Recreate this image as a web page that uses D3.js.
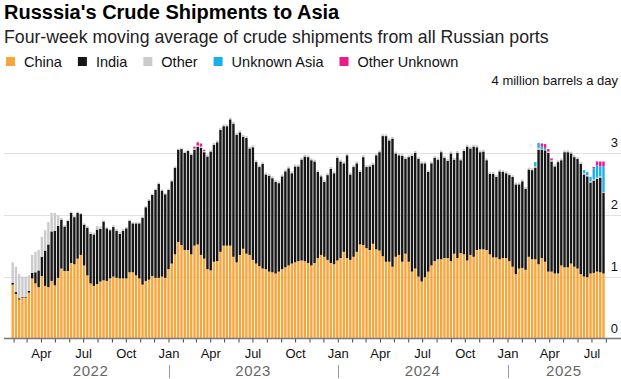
<!DOCTYPE html>
<html><head><meta charset="utf-8">
<script src="https://cdn.jsdelivr.net/npm/d3@7"></script>
<style>
body{margin:0;background:#fff;}
svg{display:block;font-family:"Liberation Sans",Arial,Helvetica,sans-serif;}
</style></head><body>
<svg id="chart" width="621" height="379"></svg>
<script>
// ---- Data (million barrels a day, four-week moving average), weekly from 2022-01-30 ----
const firstWeek = "2022-01-30";
const seriesKeys = ["China","India","Other","Unknown Asia","Other Unknown"];
const seriesColors = ["#f8a53c","#161616","#cbcbcb","#1ab0ee","#ec1a8c"];

const china = [
.87,.72,.63,.66,.66,.74,.97,.89,.83,1.01,
.85,.83,.93,.86,.98,1.13,1.09,1.09,1.22,1.20,
1.29,1.35,1.18,1.02,.89,.85,.88,.92,.94,.93,
.97,1.00,.98,.97,.97,.97,1.07,1.07,1.02,.97,
.87,.93,.95,1.01,.98,.98,1.00,.98,1.12,1.21,
1.36,1.56,1.51,1.43,1.43,1.36,1.50,1.52,1.35,1.29,
1.12,1.10,1.24,1.25,1.40,1.50,1.50,1.50,1.32,1.23,
1.35,1.45,1.37,1.35,1.27,1.21,1.17,1.13,1.12,1.08,
1.07,1.05,1.08,1.12,1.15,1.18,1.21,1.23,1.25,1.26,
1.25,1.22,1.18,1.22,1.30,1.35,1.32,1.27,1.22,1.20,
1.26,1.30,1.40,1.30,1.27,1.32,1.40,1.52,1.51,1.46,
1.43,1.53,1.44,1.42,1.33,1.24,1.24,1.16,1.32,1.35,
1.24,1.37,1.24,1.08,1.13,1.00,.92,.99,1.08,1.18,
1.25,1.28,1.28,1.30,1.30,1.25,1.37,1.30,1.38,1.36,
1.26,1.35,1.32,1.43,1.44,1.44,1.43,1.36,1.31,1.31,
1.28,1.30,1.30,1.25,1.16,1.04,1.13,1.14,1.11,1.32,
1.28,1.28,1.20,1.30,1.24,1.08,1.08,1.05,1.05,1.18,
1.15,1.15,1.21,1.16,1.13,1.04,1.00,.99,1.05,1.06,
1.08,1.07,1.05];

const india = [
.03,.03,.02,.01,.01,.03,.09,.18,.27,.31,
.57,.69,.80,.88,.84,.79,.72,.81,.81,.76,
.74,.66,.66,.77,.80,.83,.88,.85,.95,.85,
.78,.80,.76,.72,.77,.81,.83,.79,.84,.89,
1.08,1.19,1.28,1.31,1.42,1.52,1.39,1.35,1.28,1.33,
1.40,1.49,1.55,1.57,1.60,1.61,1.55,1.58,1.73,1.72,
1.82,1.92,1.89,1.92,1.97,1.93,1.93,2.04,2.15,2.06,
1.98,1.81,1.87,1.72,1.82,1.64,1.60,1.69,1.53,1.55,
1.52,1.48,1.43,1.50,1.55,1.57,1.46,1.55,1.53,1.63,
1.69,1.71,1.70,1.64,1.39,1.27,1.21,1.37,1.52,1.47,
1.66,1.56,1.43,1.66,1.38,1.45,1.43,1.17,1.42,1.31,
1.35,1.28,1.52,1.59,1.94,2.03,1.96,2.07,1.67,1.61,
1.71,1.53,1.69,1.87,1.87,1.90,1.91,1.84,1.61,1.65,
1.67,1.61,1.73,1.62,1.57,1.74,1.52,1.70,1.50,1.67,
1.84,1.72,1.78,1.66,1.57,1.58,1.45,1.30,1.35,1.30,
1.42,1.39,1.37,1.39,1.45,1.45,1.36,1.40,1.31,1.41,
1.44,1.48,1.85,1.75,1.80,1.92,1.78,1.73,1.80,1.70,
1.86,1.86,1.78,1.77,1.77,1.78,1.65,1.63,1.47,1.49,
1.50,1.53,1.30];

const other = [
.33,.41,.39,.33,.33,.25,.29,.33,.33,.32,
.33,.36,.30,.29,.17,.03,.02,.02,.02,.02,
.02,.02,.02,.03,.03,.03,.06,.04,.02,.02,
.02,.03,.03,.03,.03,.02,.02,.02,.02,.02,
.02,.02,.02,.02,.02,.02,.02,.02,.02,.02,
.02,.02,.02,.02,.02,.02,.02,.02,.02,.02,
.03,.03,.03,.03,.03,.03,.03,.03,.03,.03,
.03,.03,.03,.03,.03,.03,.03,.03,.03,.03,
.03,.03,.03,.03,.03,.03,.03,.03,.03,.03,
.03,.03,.03,.03,.03,.03,.03,.03,.03,.03,
.03,.03,.03,.03,.03,.03,.03,.03,.03,.03,
.03,.03,.03,.03,.03,.03,.03,.03,.03,.03,
.03,.03,.03,.03,.03,.03,.03,.03,.03,.03,
.03,.03,.03,.03,.03,.03,.03,.03,.03,.03,
.03,.03,.03,.03,.03,.03,.03,.03,.03,.03,
.03,.03,.03,.03,.03,.03,.03,.03,.03,.03,
.03,.02,.03,.01,.01,.02,.02,.03,.03,.03,
.03,.03,.03,.03,.03,.03,.02,.02,.02,.02,
.02,.02,.01];

const unknownAsia = [
0,0,0,0,0,0,0,0,0,0, 0,0,0,0,0,0,0,0,0,0,
0,0,0,0,0,0,0,0,0,0, 0,0,0,0,0,0,0,0,0,0,
0,0,0,0,0,0,0,0,0,0, 0,0,0,0,0,0,0,0,0,0,
0,0,0,0,0,0,0,0,0,0, 0,0,0,0,0,0,0,0,0,0,
0,0,0,0,0,0,0,0,0,0, 0,0,0,0,0,0,0,0,0,0,
0,0,0,0,0,0,0,0,0,0, 0,0,0,0,0,0,0,0,0,0,
0,0,0,0,0,0,0,0,0,0, 0,0,0,0,0,0,0,0,0,0,
0,0,0,0,0,0,0,0,0,0, 0,0,0,0,0,0,0,0,0,0,
0,.07,.08,.04,.03,0,0,0,0,0,
0,0,0,0,0,0,.05,.05,.07,.18,
.20,.16,.42];

const otherUnknown = [
0,0,0,0,0,0,0,0,0,0, 0,0,0,0,0,0,0,0,0,0,
0,0,0,0,0,0,0,0,0,0, 0,0,0,0,0,0,0,0,0,0,
0,0,0,0,0,0,0,0,0,0, 0,0,0,0,0,0,.03,.05,.05,.02,
0,0,0,0,0,0,0,0,0,0, 0,0,0,0,0,0,0,0,0,0,
0,0,0,0,0,0,0,0,0,0, 0,0,0,0,0,0,0,0,0,0,
0,0,0,0,0,0,0,0,0,0, 0,0,0,0,0,0,0,0,0,0,
0,0,0,0,0,0,0,0,0,0, 0,0,0,0,0,0,0,0,0,0,
0,0,0,0,0,0,0,0,0,0, 0,0,0,0,0,0,0,0,0,0,
0,0,0,.05,.06,.04,.03,0,0,0,
0,0,0,0,0,0,0,0,0,.02,
.06,.08,.08];

const yTickValues = [0,1,2,3,4];
const yTickLabels = ["0","1","2","3","4 million barrels a day"];
const monthLabels = {0:"Jan",3:"Apr",6:"Jul",9:"Oct"};
const yearLabels = ["2022","2023","2024","2025"];

// ---- Build table ----
const start = new Date(firstWeek + "T00:00:00Z");
const table = china.map((c,i)=>({
  date: d3.utcDay.offset(start, 7*i),
  "China": c, "India": india[i], "Other": other[i],
  "Unknown Asia": unknownAsia[i], "Other Unknown": otherUnknown[i]
}));

const svg = d3.select("#chart");
const W = 621, H = 379;

// time scale: Jan 1 2023 -> 168.5px, Jan 1 2025 -> 507.5px
const pxPerDay = 339/731;
const x = d3.scaleUtc()
  .domain([new Date(Date.UTC(2022,0,1)), new Date(Date.UTC(2025,7,1))])
  .range([168.5 - 365*pxPerDay, 507.5 + 212*pxPerDay]);
const y = d3.scaleLinear().domain([0,4]).range([338.5, 90.9]);
const color = d3.scaleOrdinal().domain(seriesKeys).range(seriesColors);

// ---- Title, subtitle, legend ----
svg.append("text").attr("x",4).attr("y",19).attr("font-size",20).attr("font-weight","bold")
  .attr("fill","#000").text("Russsia's Crude Shipments to Asia");
svg.append("text").attr("x",4).attr("y",42.5).attr("font-size",17.7)
  .attr("fill","#222").text("Four-week moving average of crude shipments from all Russian ports");

const legend = svg.append("g").attr("transform","translate(6,0)");
let lx = 0;
seriesKeys.forEach(k=>{
  const g = legend.append("g").attr("transform",`translate(${lx},0)`);
  g.append("rect").attr("x",0).attr("y",57).attr("width",9).attr("height",9).attr("fill",color(k));
  const t = g.append("text").attr("x",18).attr("y",66.5).attr("font-size",14.5).attr("fill","#111").text(k);
  lx += 18 + t.node().getComputedTextLength() + 16;
});

// ---- Y grid + labels ----
const yAxis = d3.axisRight(y).tickValues(yTickValues).tickSize(0)
  .tickFormat((d,i)=>yTickLabels[i]);
const gy = svg.append("g").attr("transform","translate(618,0)").call(yAxis);
gy.select(".domain").remove();
gy.selectAll("text").attr("text-anchor","end").attr("x",0).attr("dy",-6)
  .attr("font-size",13).attr("font-family","'Liberation Sans',Arial,sans-serif").attr("fill","#111");

const grid = svg.append("g");
grid.selectAll("line").data([1,2,3]).join("line")
  .attr("x1",4).attr("x2",W).attr("y1",d=>Math.round(y(d))+0.5).attr("y2",d=>Math.round(y(d))+0.5)
  .attr("stroke","#e1e1e1").attr("stroke-width",1.2);

// ---- Bars ----
const stack = d3.stack().keys(seriesKeys)(table);
const barW = 2.4;
const bars = svg.append("g");
stack.forEach(layer=>{
  bars.append("g").attr("fill",color(layer.key))
    .selectAll("rect").data(layer).join("rect")
    .attr("x",d=>x(d.data.date)-barW/2)
    .attr("width",barW)
    .attr("y",d=>y(d[1]))
    .attr("height",d=>Math.max(0,y(d[0])-y(d[1])));
});

// ---- X axis ----
const xAxis = d3.axisBottom(x)
  .ticks(d3.utcMonth.every(1))
  .tickSize(4)
  .tickFormat(d=>monthLabels[d.getUTCMonth()]||"");
const gx = svg.append("g").attr("transform",`translate(0,${y(0)})`).call(xAxis);
gx.select(".domain").remove();
gx.selectAll(".tick line").attr("stroke","#444");
gx.selectAll(".tick").filter(d=>x(d)<3 || x(d)>W-2).remove();
gx.selectAll("text").attr("font-size",13).attr("fill","#111").attr("dy","0.95em")
  .attr("font-family","'Liberation Sans',Arial,sans-serif");
svg.append("line").attr("x1",4).attr("x2",W).attr("y1",y(0)).attr("y2",y(0))
  .attr("stroke","#777").attr("stroke-width",1.5);

// year separators + year labels
const yearStarts = [2023,2024,2025].map(yr=>new Date(Date.UTC(yr,0,1)));
svg.append("g").selectAll("line").data(yearStarts).join("line")
  .attr("x1",d=>Math.round(x(d))+0.5).attr("x2",d=>Math.round(x(d))+0.5)
  .attr("y1",365).attr("y2",378).attr("stroke","#999").attr("stroke-width",1);
const yearCenters = [
  [new Date(Date.UTC(2022,0,30)), new Date(Date.UTC(2023,0,1))],
  [new Date(Date.UTC(2023,0,1)), new Date(Date.UTC(2024,0,1))],
  [new Date(Date.UTC(2024,0,1)), new Date(Date.UTC(2025,0,1))],
  [new Date(Date.UTC(2025,0,1)), new Date(Date.UTC(2025,8,1))]
];
svg.append("g").selectAll("text").data(yearLabels).join("text")
  .attr("x",(d,i)=>(x(yearCenters[i][0])+x(yearCenters[i][1]))/2)
  .attr("y",376).attr("text-anchor","middle").attr("font-size",15)
  .attr("letter-spacing",0.6).attr("fill","#666").text(d=>d);
</script>
</body></html>
